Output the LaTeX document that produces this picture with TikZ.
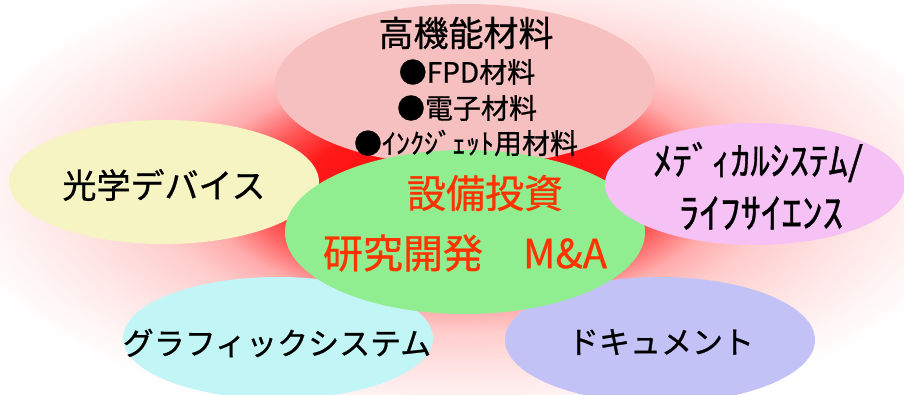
\documentclass[tikz,border=0pt]{standalone}
\usepackage{fontspec}
\setmainfont[FakeBold=0.8]{Noto Sans CJK JP}
\usetikzlibrary{shapes.geometric}
\definecolor{toppink}{RGB}{246,192,192}
\definecolor{midgreen}{RGB}{144,238,144}
\definecolor{optyellow}{RGB}{246,244,194}
\definecolor{medpink}{RGB}{246,194,246}
\definecolor{gracyan}{RGB}{194,246,246}
\definecolor{doclav}{RGB}{194,194,246}
\definecolor{invred}{RGB}{255,51,0}
\pgfdeclareradialshading{glow}{\pgfpoint{0bp}{0bp}}{color(0bp)=(red); color(7.5bp)=(red!90!white); color(10bp)=(red!65!white); color(12.5bp)=(red!33!white); color(15bp)=(red!20!white); color(18.75bp)=(red!11!white); color(22.5bp)=(red!4!white); color(25bp)=(white); color(50bp)=(white)}
\newcommand{\fsz}[1]{\fontsize{#1}{#1}\selectfont}
\begin{document}
\begin{tikzpicture}[x=1pt,y=-1pt,
  blob/.style={ellipse, inner sep=0pt, draw=none},
  txt/.style={inner sep=0pt, text=black},
  redtxt/.style={inner sep=0pt, text=invred}]
\useasboundingbox (0,0) rectangle (904,394);
\fill[white] (0,0) rectangle (904,394);
\begin{scope}
  \clip (0,0) rectangle (904,394);
  \shade[shading=glow] (462,188) ellipse [x radius=520, y radius=240];
\end{scope}
% ellipses
\node[blob, fill=toppink, minimum width=380pt, minimum height=162pt] (hif) at (465,85) {};
\node[blob, fill=optyellow, minimum width=310pt, minimum height=124pt] (opt) at (164,182) {};
\node[blob, fill=gracyan, minimum width=310pt, minimum height=122pt] (gra) at (278,338) {};
\node[blob, fill=doclav, minimum width=310pt, minimum height=126pt] (doc) at (660,340) {};
\node[blob, fill=midgreen, minimum width=360pt, minimum height=164pt] (ctr) at (465,232) {};
\node[blob, fill=medpink, minimum width=300pt, minimum height=122pt] (med) at (755,184) {};
% texts
\node[txt, font=\fsz{35}] (t1) at (466,33) {高機能材料};
\node[txt, font=\fsz{28}] (t2) at (467,72) {●FPD材料};
\node[txt, font=\fsz{28}] (t3) at (467,108) {●電子材料};
\node[txt, font=\fsz{28}] (t4) at (466,143) {●ｲﾝｸｼﾞｪｯﾄ用材料};
\node[redtxt, font=\fsz{39}] (c1) at (485,193) {設備投資};
\node[redtxt, font=\fsz{40}] (c2) at (465,253) {研究開発　M\&A};
\node[txt, font=\fsz{34}] (o1) at (164,185) {光学デバイス};
\node[txt, font=\fsz{39}] (m1) at (758,162) {ﾒﾃﾞｨｶﾙｼｽﾃﾑ/};
\node[txt, font=\fsz{41}] (m2) at (761,213) {ﾗｲﾌｻｲｴﾝｽ};
\node[txt, font=\fsz{31}] (g1) at (277,343) {グラフィックシステム};
\node[txt, font=\fsz{31}] (d1) at (661,342) {ドキュメント};
\end{tikzpicture}
\end{document}
